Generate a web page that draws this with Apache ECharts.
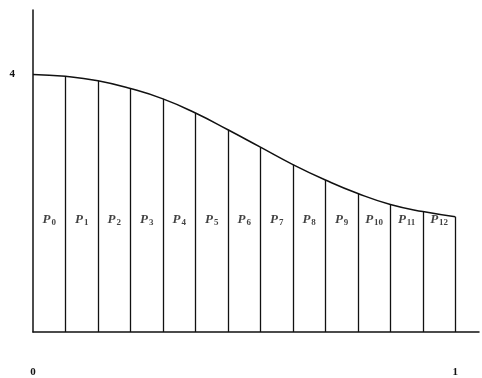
<!DOCTYPE html>
<html>
<head>
<meta charset="utf-8">
<style>
  html, body { margin: 0; padding: 0; background: #fff; }
  #chart { width: 482px; height: 378px; }
</style>
<script src="https://cdn.jsdelivr.net/npm/echarts@6/dist/echarts.min.js"></script>
</head>
<body>
<div id="chart"></div>
<script>
// Partition points x_k = k/13 on [0, 1]
const partitionX = [0, 1/13, 2/13, 3/13, 4/13, 5/13, 6/13, 7/13, 8/13, 9/13, 10/13, 11/13, 12/13, 1];
// Curve height at each partition point
const curveY = [4.0, 3.97, 3.90, 3.78, 3.62, 3.40, 3.14, 2.87, 2.60, 2.36, 2.15, 1.98, 1.87, 1.79];
// Strip names P0 .. P12
const stripIndex = [0, 1, 2, 3, 4, 5, 6, 7, 8, 9, 10, 11, 12];
// Axis tick labels
const xTickLabels = { 0: '0', 1: '1' };
const yTickLabels = { 4: '4' };

const LABEL_Y = 1.74;
const serif = '"Liberation Serif", "DejaVu Serif", serif';

const curveData = partitionX.map((x, i) => [x, curveY[i]]);
const verticals = partitionX.slice(1).map((x, i) => [
  { coord: [x, 0] },
  { coord: [x, curveY[i + 1]] }
]);
const stripLabels = stripIndex.map(k => ({
  value: [(partitionX[k] + partitionX[k + 1]) / 2, LABEL_Y],
  name: String(k)
}));

const chart = echarts.init(document.getElementById('chart'), null, { renderer: 'canvas' });
chart.setOption({
  animation: false,
  backgroundColor: '#fff',
  grid: { left: 33, right: 0, top: 10, bottom: 45 },
  xAxis: {
    type: 'value', min: 0, max: 1.056, interval: 1,
    axisLine: { show: true, onZero: false, lineStyle: { color: '#111', width: 1.5 } },
    axisTick: { show: false },
    splitLine: { show: false },
    axisLabel: {
      margin: 35, color: '#111', fontFamily: serif, fontSize: 11, fontWeight: 'bold',
      formatter: v => xTickLabels[v] || ''
    }
  },
  yAxis: {
    type: 'value', min: 0, max: 5, interval: 1,
    axisLine: { show: true, onZero: false, lineStyle: { color: '#111', width: 1.5 } },
    axisTick: { show: false },
    splitLine: { show: false },
    axisLabel: {
      margin: 18, color: '#111', fontFamily: serif, fontSize: 11, fontWeight: 'bold',
      formatter: v => yTickLabels[v] || ''
    }
  },
  series: [
    {
      type: 'line',
      data: curveData,
      smooth: 0.5,
      symbol: 'none',
      lineStyle: { color: '#111', width: 1.5 },
      markLine: {
        symbol: ['none', 'none'],
        silent: true,
        label: { show: false },
        lineStyle: { color: '#111', width: 1.3, type: 'solid' },
        data: verticals
      },
      z: 3
    },
    {
      type: 'scatter',
      data: stripLabels,
      symbolSize: 0,
      label: {
        show: true,
        position: 'inside',
        formatter: p => '{p|P}{s|' + p.name + '}',
        rich: {
          p: { fontFamily: serif, fontStyle: 'italic', fontWeight: 'bold', fontSize: 13, color: '#111' },
          s: { fontFamily: serif, fontSize: 9, fontWeight: 'bold', color: '#111', verticalAlign: 'bottom', padding: [5, 0, 0, 1] }
        }
      },
      z: 4
    }
  ]
});
</script>
</body>
</html>
